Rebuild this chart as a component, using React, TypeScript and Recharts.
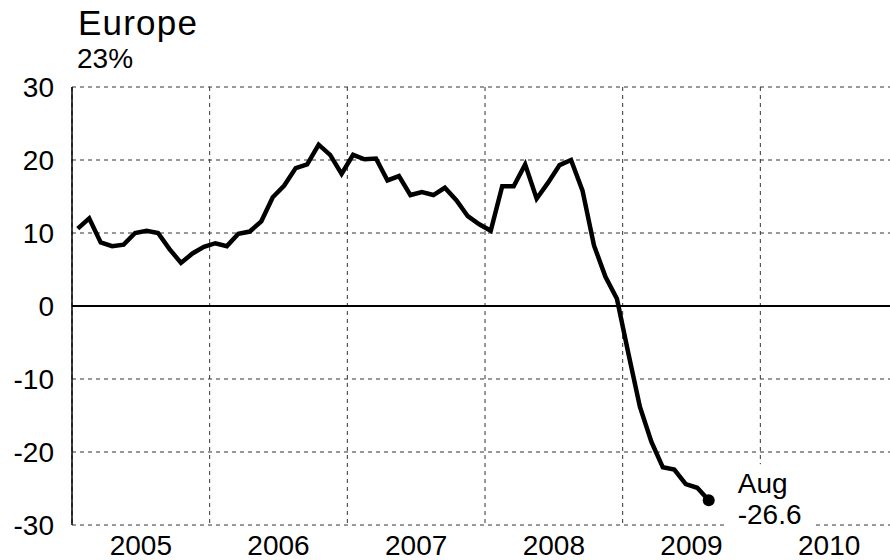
import React from 'react';
import { LineChart, Line, XAxis, YAxis, CartesianGrid, ReferenceLine } from 'recharts';

const yearLabels = ['2005', '2006', '2007', '2008', '2009', '2010'];
const values2005 = [10.6, 12.0, 8.7, 8.2, 8.4, 10.0, 10.3, 10.0, 7.8, 5.9, 7.2, 8.1];
const values2006 = [8.6, 8.2, 9.9, 10.2, 11.6, 14.9, 16.5, 18.9, 19.4, 22.1, 20.7, 18.1];
const values2007 = [20.7, 20.1, 20.2, 17.2, 17.8, 15.2, 15.6, 15.2, 16.2, 14.5, 12.3, 11.2];
const values2008 = [10.3, 16.4, 16.4, 19.4, 14.7, 16.9, 19.3, 20.0, 15.8, 8.3, 4.0, 1.0];
const values2009 = [-6.5, -13.8, -18.6, -22.1, -22.4, -24.4, -24.9, -26.6];
const yTicks = [-30, -20, -10, 0, 10, 20, 30];
const lastLabelMonth = 'Aug';

const allValues = [...values2005, ...values2006, ...values2007, ...values2008, ...values2009];
const data = allValues.map((v, i) => ({ t: i + 0.5, v }));
const lastIndex = data.length - 1;
const yearLabelTicks = yearLabels.map((_, i) => i * 12 + 6);
const yearBoundaryTicks = yearLabels.map((_, i) => i * 12).concat([72]);

const FONT = '"Liberation Sans", Arial, Helvetica, sans-serif';

const renderDot = (props: any) => {
  const { cx, cy, index, payload } = props;
  if (index !== lastIndex) return <g key={`d${index}`} />;
  return (
    <g key={`d${index}`}>
      <rect x={cx + 18} y={cy - 36} width={88} height={28 + 36} fill="#fff" />
      <circle cx={cx} cy={cy} r={6} fill="#000" />
      <text x={cx + 29} y={cy - 7} fontSize={28} fontFamily={FONT} fill="#000">{lastLabelMonth}</text>
      <text x={cx + 29} y={cy + 24} fontSize={28} fontFamily={FONT} fill="#000">{payload.v.toFixed(1)}</text>
    </g>
  );
};

export default function App() {
  return (
    <div style={{ position: 'fixed', left: 0, top: 0, width: 890, height: 560, overflow: 'hidden', background: '#fff' }}>
      <svg width={890} height={80} style={{ position: 'absolute', left: 0, top: 0 }}>
        <text x={78} y={35} fontSize={35} letterSpacing={1.2} fontFamily={FONT} fill="#000">Europe</text>
        <text x={77} y={68} fontSize={28} fontFamily={FONT} fill="#000">23%</text>
      </svg>
      <div style={{ position: 'absolute', left: 0, top: 0 }}>
        <LineChart width={910} height={560} data={data} margin={{ top: 87, right: 12, bottom: 0, left: 0 }}>
          <XAxis xAxisId="grid" type="number" dataKey="t" domain={[0, 72]} ticks={yearBoundaryTicks} hide />
          <CartesianGrid xAxisId="grid" stroke="#333" strokeDasharray="4 4" strokeWidth={1} />
          <XAxis
            type="number"
            dataKey="t"
            domain={[0, 72]}
            ticks={yearLabelTicks}
            tickFormatter={(t: number) => yearLabels[Math.floor(t / 12)]}
            axisLine={false}
            tickLine={false}
            tickSize={0}
            tickMargin={10}
            height={35}
            interval={0}
            tick={{ fill: '#000', fontSize: 28, fontFamily: FONT }}
          />
          <YAxis
            type="number"
            domain={[-30, 30]}
            ticks={yTicks}
            width={72}
            interval={0}
            axisLine={{ stroke: '#000', strokeWidth: 1.5 }}
            tickLine={false}
            tickSize={0}
            tickMargin={18}
            tick={{ fill: '#000', fontSize: 28, fontFamily: FONT }}
          />
          <ReferenceLine y={0} stroke="#000" strokeWidth={2} />
          <Line
            type="linear"
            dataKey="v"
            stroke="#000"
            strokeWidth={4.5}
            strokeLinejoin="miter"
            dot={renderDot}
            activeDot={false}
            isAnimationActive={false}
          />
        </LineChart>
      </div>
    </div>
  );
}
